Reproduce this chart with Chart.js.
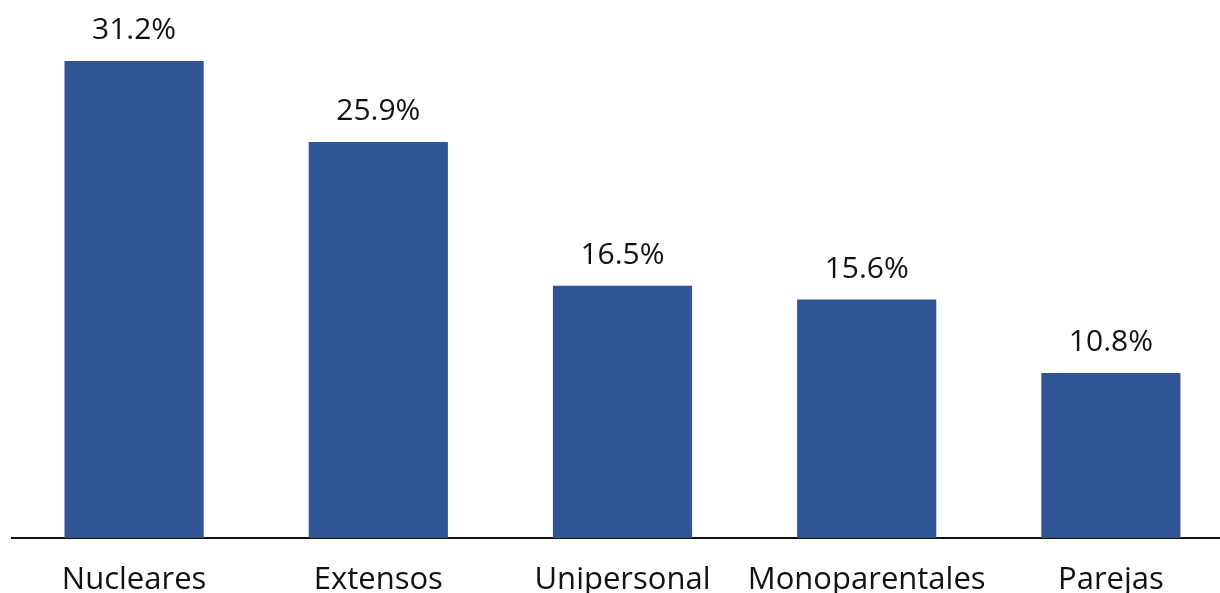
<!DOCTYPE html>
<html>
<head>
<meta charset="utf-8">
<script src="https://cdn.jsdelivr.net/npm/chart.js@4.4.0/dist/chart.umd.min.js"></script>
<style>
html,body{margin:0;padding:0;background:#fff;overflow:hidden;width:1220px;height:593px;}
#wrap{position:relative;width:1245px;height:593px;}
</style>
</head>
<body>
<div id="wrap"><canvas id="c"></canvas></div>
<script>
const categories = ["Nucleares", "Extensos", "Unipersonal", "Monoparentales", "Parejas"];
const values = [31.2, 25.9, 16.5, 15.6, 10.8];
const valueLabels = ["31.2%", "25.9%", "16.5%", "15.6%", "10.8%"];

const FONT = "'Open Sans', sans-serif";

const topLabels = {
  id: 'topLabels',
  afterDatasetsDraw(chart) {
    const ctx = chart.ctx;
    const meta = chart.getDatasetMeta(0);
    ctx.save();
    ctx.font = "30px " + FONT;
    ctx.fillStyle = "#111";
    ctx.textAlign = "center";
    ctx.textBaseline = "alphabetic";
    meta.data.forEach((bar, i) => {
      ctx.fillText(valueLabels[i], bar.x, bar.y - 22);
    });
    ctx.restore();
  }
};

new Chart(document.getElementById('c'), {
  type: 'bar',
  data: {
    labels: categories,
    datasets: [{
      data: values,
      backgroundColor: '#2f5597',
      barPercentage: 0.57,
      categoryPercentage: 1.0
    }]
  },
  options: {
    responsive: true,
    maintainAspectRatio: false,
    animation: false,
    devicePixelRatio: 1,
    layout: { padding: { left: 12, right: 12, top: 3, bottom: 0 } },
    plugins: { legend: { display: false }, tooltip: { enabled: false } },
    scales: {
      x: {
        grid: { display: false, drawTicks: false },
        border: { display: true, color: '#111', width: 2 },
        ticks: { color: '#111', font: { family: FONT, size: 31 }, padding: 24, maxRotation: 0, autoSkip: false },
        afterFit: (s) => { s.height = 55; }
      },
      y: {
        display: false,
        min: 0,
        max: 35
      }
    }
  },
  plugins: [topLabels]
});
</script>
</body>
</html>
